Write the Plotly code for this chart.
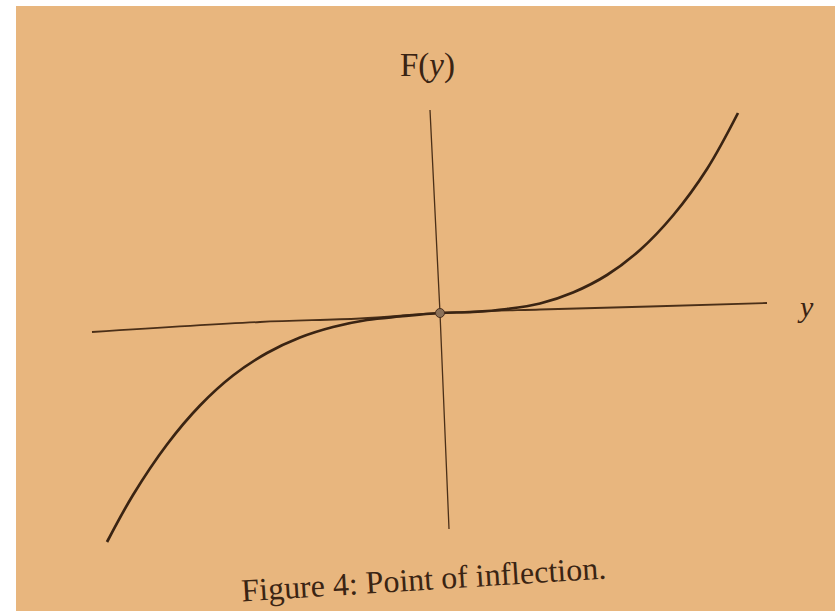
import plotly.graph_objects as go

# Points along the curve F(y), read in figure units (origin at the axes' crossing)
y_pts = [-3.33, -3.07, -2.73, -2.40, -2.07, -1.73, -1.40, -1.07, -0.73, -0.40, 0.0,
         0.33, 0.67, 1.00, 1.33, 1.67, 2.00, 2.33, 2.67, 2.98]
F_pts = [-2.29, -1.82, -1.315, -0.925, -0.625, -0.40, -0.245, -0.14, -0.07, -0.035, 0.0,
         0.01, 0.04, 0.095, 0.205, 0.38, 0.63, 0.975, 1.44, 2.00]

# Hand-drawn axis lines (slightly skewed on the printed page)
h_axis_x = [-3.48, -1.80, -0.80, 0.0, 1.00, 2.10, 3.27]
h_axis_y = [-0.19, -0.09, -0.055, 0.0, 0.035, 0.065, 0.10]
v_axis_x = [-0.10, 0.0, 0.09]
v_axis_y = [2.03, 0.0, -2.16]

# Inflection point
infl_y = [0.0]
infl_F = [0.0]

ink = "#3a2413"
paper = "#e8b67e"

fig = go.Figure()
fig.add_trace(go.Scatter(x=h_axis_x, y=h_axis_y, mode="lines",
                         line=dict(color="#4a2f18", width=1.8, shape="spline"),
                         hoverinfo="skip"))
fig.add_trace(go.Scatter(x=v_axis_x, y=v_axis_y, mode="lines",
                         line=dict(color="#4a2f18", width=1.3),
                         hoverinfo="skip"))
fig.add_trace(go.Scatter(x=y_pts, y=F_pts, mode="lines",
                         line=dict(color=ink, width=2.7, shape="spline", smoothing=1.0),
                         hoverinfo="skip"))
fig.add_trace(go.Scatter(x=infl_y, y=infl_F, mode="markers",
                         marker=dict(size=9, color="#8a7058",
                                     line=dict(color="#4a3020", width=1)),
                         hoverinfo="skip"))

serif = "Liberation Serif"
fig.add_annotation(x=-0.13, y=2.48, text="F(<i>y</i>)", showarrow=False,
                   font=dict(family=serif, size=33, color=ink))
fig.add_annotation(x=3.65, y=0.07, text="<i>y</i>", showarrow=False,
                   font=dict(family=serif, size=30, color=ink))
fig.add_annotation(x=-0.17, y=-2.66, text="Figure 4: Point of inflection.",
                   showarrow=False, textangle=-3.6,
                   font=dict(family=serif, size=32, color=ink))

fig.update_layout(
    width=835, height=611,
    margin=dict(l=16, r=0, t=6, b=0),
    paper_bgcolor="white", plot_bgcolor=paper,
    showlegend=False,
    xaxis=dict(range=[-4.24, 3.95], visible=False, fixedrange=True),
    yaxis=dict(range=[-2.98, 3.07], visible=False, fixedrange=True),
)

fig.write_html("out.html")
